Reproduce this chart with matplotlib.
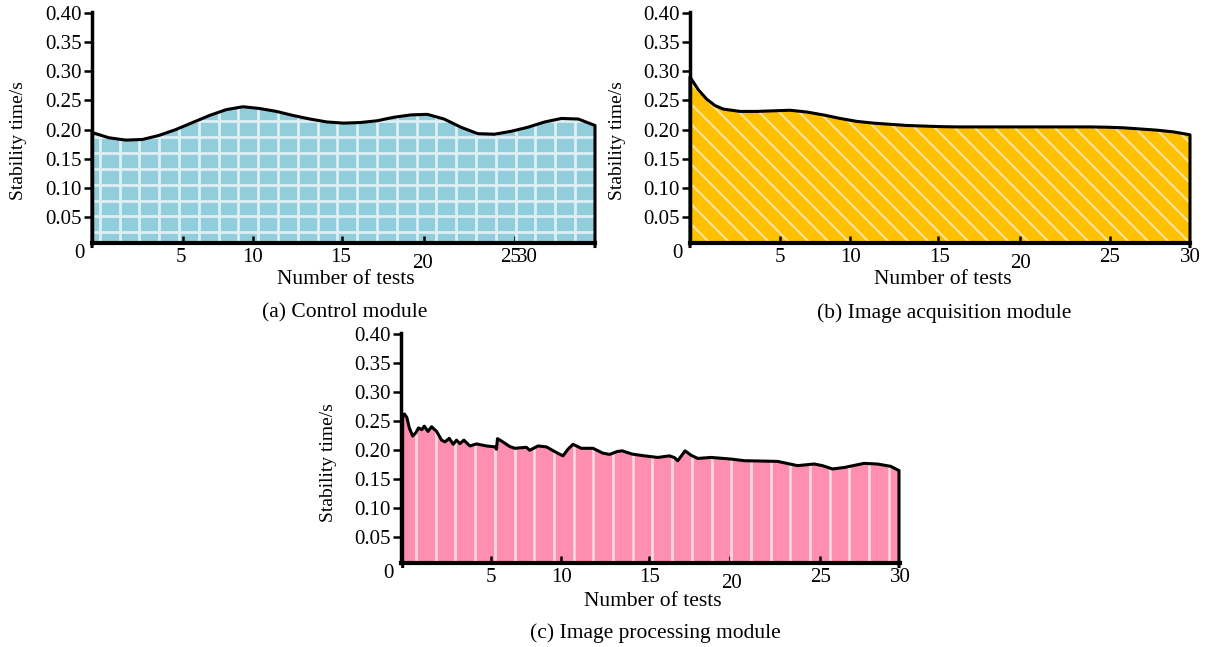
import numpy as np
import matplotlib
matplotlib.use("Agg")
import matplotlib.pyplot as plt

plt.rcParams['font.family'] = ['Liberation Serif', 'DejaVu Serif']

# ---------------- data ----------------
tests_a = list(range(0, 31))
time_a = [0.195, 0.186, 0.182, 0.183, 0.190, 0.200, 0.212, 0.224, 0.234, 0.239,
          0.236, 0.231, 0.224, 0.218, 0.213, 0.211, 0.212, 0.215, 0.221, 0.225,
          0.226, 0.218, 0.204, 0.193, 0.192, 0.197, 0.204, 0.213, 0.219, 0.218,
          0.207]

tests_b = [0, 0.5, 1, 1.5, 2, 3, 4, 5, 6, 7, 8, 9, 10, 11, 12, 13, 14, 15, 16,
           17, 18, 19, 20, 21, 22, 23, 24, 25, 26, 27, 28, 29, 30]
time_b = [0.290, 0.268, 0.252, 0.241, 0.235, 0.231, 0.231, 0.232, 0.233, 0.230,
          0.225, 0.219, 0.214, 0.211, 0.209, 0.207, 0.206, 0.205, 0.2045, 0.2045,
          0.2045, 0.2045, 0.2045, 0.2045, 0.2045, 0.2045, 0.2045, 0.204, 0.203,
          0.201, 0.199, 0.196, 0.191]

tests_c = [0.1, 0.2, 0.35, 0.5, 0.7, 0.9, 1.05, 1.25, 1.4, 1.62, 1.84, 2.14, 2.44,
           2.64, 2.9, 3.14, 3.34, 3.54, 3.78, 4.14, 4.54, 5.14, 5.64, 5.74, 5.8,
           6.04, 6.54, 6.84, 7.54, 7.74, 8.24, 8.74, 9.34, 9.74, 10.04, 10.34,
           10.84, 11.54, 12.14, 12.54, 13.0, 13.3, 13.9, 14.64, 15.44, 16.14,
           16.44, 16.64, 17.08, 17.44, 17.84, 18.64, 19.84, 20.64, 22.64, 23.84,
           24.84, 25.34, 25.94, 26.64, 27.84, 28.64, 29.44, 29.94]
time_c = [0.258, 0.262, 0.256, 0.238, 0.224, 0.230, 0.238, 0.235, 0.241, 0.232,
          0.240, 0.232, 0.217, 0.214, 0.220, 0.210, 0.217, 0.211, 0.217, 0.207,
          0.2105, 0.207, 0.2055, 0.2015, 0.2195, 0.2155, 0.206, 0.203, 0.2047,
          0.1997, 0.207, 0.2054, 0.1958, 0.190, 0.2014, 0.2098, 0.203, 0.203,
          0.1946, 0.1925, 0.1975, 0.1986, 0.193, 0.190, 0.1873, 0.190, 0.187,
          0.1817, 0.1986, 0.191, 0.1856, 0.1873, 0.1845, 0.1817, 0.1805, 0.1732,
          0.176, 0.1732, 0.1675, 0.170, 0.1771, 0.176, 0.172, 0.1647]

ytick_values = [0.05, 0.10, 0.15, 0.20, 0.25, 0.30, 0.35, 0.40]
ytick_labels = ['0.05', '0.10', '0.15', '0.20', '0.25', '0.30', '0.35', '0.40']
xtick_labels = ['5', '10', '15', '20', '25', '30']
captions = ['(a) Control module', '(b) Image acquisition module',
            '(c) Image processing module']
xlabel = 'Number of tests'
ylabel = 'Stability time/s'

# ---------------- layout / style ----------------
W, H = 1209, 647
fig = plt.figure(figsize=(W / 100, H / 100), dpi=100)

def px_axes(left, right, top, bottom):
    return fig.add_axes([left / W, (H - bottom) / H, (right - left) / W, (bottom - top) / H])

ax_a = px_axes(92, 595, 12, 243)
ax_b = px_axes(690, 1190, 12, 243)
ax_c = px_axes(401, 900, 333, 563)

tick_marks = [5.4, 9.6, 14.9, 19.8, 25.2]
label_pos_a = [5.3, 9.6, 14.85, 19.7, 24.95, 25.95]
label_pos_bc = [5.4, 9.65, 14.95, 19.85, 25.2, 30.0]
label_drop = [0, 0, 0, 5, 0, 0]   # px; the "20" label sits lower
FS = 15
FS_LAB = 15.5
FS_Y = 14


def style_axes(ax, label_pos, xlabel_y, ylabel_x, ylabel_y):
    ax.set_xlim(0, 30)
    ax.set_ylim(0.006, 0.401)
    for s in ['top', 'right']:
        ax.spines[s].set_visible(False)
    ax.spines['left'].set_linewidth(2.5)
    ax.spines['bottom'].set_linewidth(3)
    ax.set_yticks(ytick_values)
    ax.set_yticklabels(ytick_labels, fontsize=FS)
    ax.tick_params(axis='y', direction='out', length=6, width=1.8, pad=1.5)
    ax.set_xticks(tick_marks)
    ax.set_xticklabels([])
    ax.tick_params(axis='x', direction='in', length=5, width=1.8)
    hpx = ax.get_position().height * H
    trans = ax.get_xaxis_transform()
    for lab, xp, d in zip(xtick_labels, label_pos, label_drop):
        ax.text(xp, -(15 + d) / hpx, lab, transform=trans, ha='center', va='center',
                fontsize=FS)
    ax.text(-0.025, -11 / hpx, '0', transform=ax.transAxes, ha='center', va='center',
            fontsize=FS)
    ax.text(0.505, xlabel_y, xlabel, transform=ax.transAxes, ha='center', va='center',
            fontsize=FS_LAB)
    ax.text(ylabel_x, ylabel_y, ylabel, transform=ax.transAxes, ha='center',
            va='center', rotation=90, fontsize=FS_Y)


def area(ax, x, y, face):
    xs = [x[0]] + list(x) + [x[-1]]
    ys = [0] + list(y) + [0]
    poly = ax.fill(xs, ys, color=face, lw=0, zorder=1)[0]
    ax.plot(xs, ys, color='black', lw=2.2, zorder=4, solid_joinstyle='round',
            clip_on=False)
    return poly


def pix(ax):
    pos = ax.get_position()
    return pos.width * W, pos.height * H


# (a) light blue with white grid
poly_a = area(ax_a, tests_a, time_a, '#92CDDC')
wpx, hpx = pix(ax_a)
for xv in np.arange(7.7, wpx, 19.8):
    ln, = ax_a.plot([xv / wpx] * 2, [0, 1], transform=ax_a.transAxes,
                    color='#DDEFF4', lw=2.0, zorder=2)
    ln.set_clip_path(poly_a)
for yv in np.arange(10.7, hpx, 15.9):
    ln, = ax_a.plot([0, 1], [yv / hpx] * 2, transform=ax_a.transAxes,
                    color='#DDEFF4', lw=2.0, zorder=2)
    ln.set_clip_path(poly_a)

# (b) orange with white diagonal stripes
poly_b = area(ax_b, tests_b, time_b, '#FFC000')
wpx, hpx = pix(ax_b)
for x0 in np.arange(-hpx - 20, wpx + 20, 20.0):
    ln, = ax_b.plot([x0 / wpx, (x0 + hpx) / wpx], [1, 0], transform=ax_b.transAxes,
                    color='#FFE4A0', lw=1.5, zorder=2)
    ln.set_clip_path(poly_b)

# (c) pink with pale vertical stripes
poly_c = area(ax_c, tests_c, time_c, '#FF8FB1')
wpx, hpx = pix(ax_c)
for xv in np.arange(15.0, wpx, 19.7):
    ln, = ax_c.plot([xv / wpx] * 2, [0, 1], transform=ax_c.transAxes,
                    color='#F8D6DF', lw=2.0, zorder=2)
    ln.set_clip_path(poly_c)

style_axes(ax_a, label_pos_a, -37 / 231, -0.147, 0.444)
style_axes(ax_b, label_pos_bc, -37 / 231, -0.144, 0.444)
style_axes(ax_c, label_pos_bc, -39 / 230, -0.146, 0.437)

fig.text(345 / W, 1 - 313 / H, captions[0], ha='center', va='center', fontsize=FS_LAB)
fig.text(944 / W, 1 - 313 / H, captions[1], ha='center', va='center', fontsize=FS_LAB)
fig.text(655 / W, 1 - 633 / H, captions[2], ha='center', va='center', fontsize=FS_LAB)

fig.savefig('out.png', dpi=100)
